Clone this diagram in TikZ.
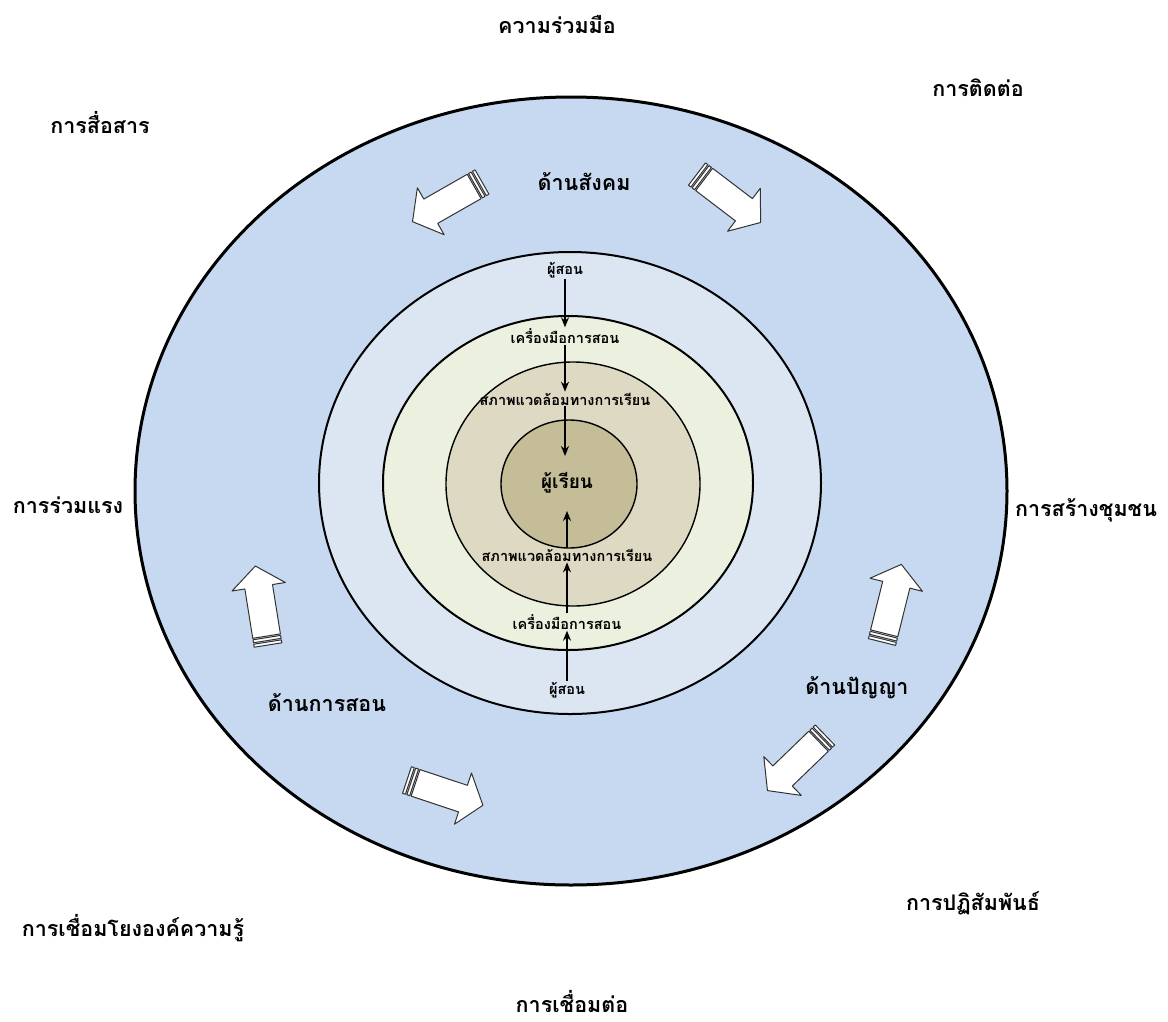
\documentclass[tikz,border=0pt]{standalone}
\usepackage{fontspec}
\newfontfamily\thaifont[Script=Thai]{Loma}
\usepackage{xcolor}
\usepackage{tikz}
\usetikzlibrary{arrows.meta}
\definecolor{ringblue}{RGB}{198,217,240}
\definecolor{ringpale}{RGB}{220,230,242}
\definecolor{ringgreen}{RGB}{235,241,222}
\definecolor{ringtan}{RGB}{221,217,195}
\definecolor{ringcore}{RGB}{196,189,151}

\tikzset{
  pics/blockarrow/.style={code={
    \draw[plate] (0,-14) rectangle (3,14);
    \draw[plate] (4.5,-14) rectangle (7.5,14);
    \draw[plate] (9,-14) -- (59,-14) -- (59,-27) -- (80,0) -- (59,27) -- (59,14) -- (9,14) -- cycle;
  }}
}

\begin{document}
\begin{tikzpicture}[x=1pt, y=-1pt]
    \tikzstyle{ring} = [draw=black, line width=2pt]
    \tikzstyle{plate} = [draw=black!80, fill=white, line width=1pt, line join=round]
    \tikzstyle{outer} = [font=\thaifont\bfseries\fontsize{21.5}{24}\selectfont, inner sep=1pt]
    \tikzstyle{inner} = [font=\thaifont\bfseries\fontsize{14.5}{17}\selectfont, inner sep=1pt]
    \tikzstyle{flow} = [-{Stealth[length=10pt,width=8pt]}, line width=1.3pt]

    \useasboundingbox (0,0) rectangle (1168,1021);
    \fill[white] (0,0) rectangle (1168,1021);

    % Rings from outside to inside
    \draw[ring, fill=ringblue, line width=3pt] (571,491) ellipse [x radius=436, y radius=394];
    \draw[ring, fill=ringpale] (570,483) ellipse [x radius=251, y radius=231];
    \draw[ring, fill=ringgreen] (568,483) ellipse [x radius=185, y radius=167];
    \draw[ring, fill=ringtan, line width=1.4pt] (573,484) ellipse [x radius=127, y radius=122];
    \draw[ring, fill=ringcore, line width=1.4pt] (569,484) ellipse [x radius=68, y radius=64];

    % Outer labels
    \node[outer] (coop) at (557,25) {ความร่วมมือ};
    \node[outer] (contact) at (978,88) {การติดต่อ};
    \node[outer] (comm) at (100,122) {การสื่อสาร};
    \node[outer] (social) at (584,182) {ด้านสังคม};
    \node[outer] (teamwork) at (68,505) {การร่วมแรง};
    \node[outer] (community) at (1086,510) {การสร้างชุมชน};
    \node[outer] (teaching) at (327,703) {ด้านการสอน};
    \node[outer] (wisdom) at (857,688) {ด้านปัญญา};
    \node[outer] (interact) at (973,903) {การปฏิสัมพันธ์};
    \node[outer] (linking) at (133,928) {การเชื่อมโยงองค์ความรู้};
    \node[outer] (connect) at (572,1001) {การเชื่อมต่อ};

    % Block arrows in the outer ring
    \pic[rotate=209.7] at (482,182) {blockarrow};
    \pic[rotate=-37.3] at (697,174) {blockarrow};
    \pic[rotate=99.1] at (268,645) {blockarrow};
    \pic[rotate=-18.4] at (407,780) {blockarrow};
    \pic[rotate=76] at (882,642) {blockarrow};
    \pic[rotate=224] at (825,735) {blockarrow};

    % Inner labels, top half
    \node[inner] (tchtop) at (565,270) {ผู้สอน};
    \node[inner] (tooltop) at (565,336) {เครื่องมือการสอน};
    \node[inner] (envtop) at (565,399) {สภาพแวดล้อมทางการเรียน};
    \node[font=\thaifont\bfseries\fontsize{19}{22}\selectfont] (learner) at (567,483) {ผู้เรียน};
    % Inner labels, bottom half
    \node[inner] (envbot) at (567,555) {สภาพแวดล้อมทางการเรียน};
    \node[inner] (toolbot) at (567,622) {เครื่องมือการสอน};
    \node[inner] (tchbot) at (567,690) {ผู้สอน};

    \coordinate (intop) at (565,456);
    \coordinate (inbot) at (567,511);

    \draw[flow] (tchtop.south) -- (tooltop.north);
    \draw[flow] (tooltop.south) -- (envtop.north);
    \draw[flow] (envtop.south) -- (intop);
    \draw[flow] (tchbot.north) -- (toolbot.south);
    \draw[flow] (toolbot.north) -- (envbot.south);
    \draw[flow] (envbot.north) -- (inbot);
\end{tikzpicture}
\end{document}
